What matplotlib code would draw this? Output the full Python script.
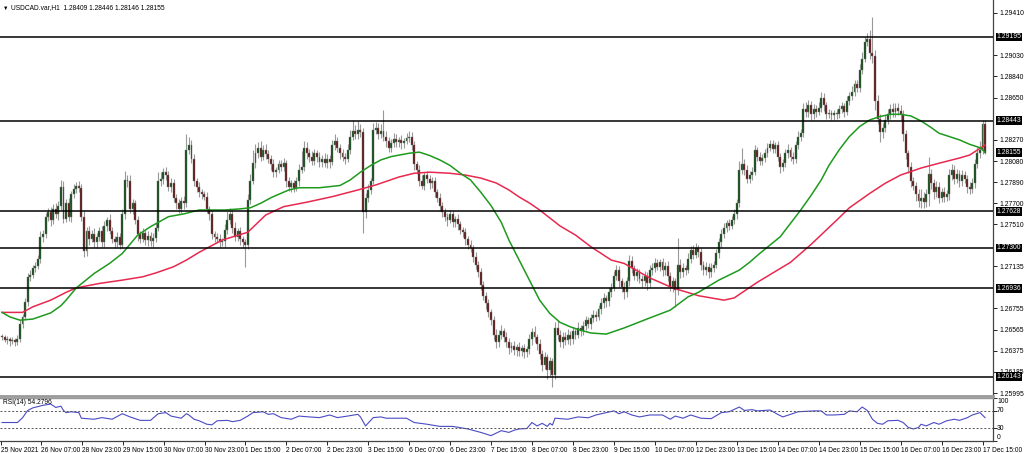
import numpy as np
import matplotlib.pyplot as plt
from matplotlib.transforms import blended_transform_factory

plt.rcParams['font.family'] = ['Liberation Sans', 'DejaVu Sans']

# hourly closes, in pips (price = pips / 10000)
close_pips = [
    12650, 12647, 12648, 12646, 12647, 12645, 12648, 12662, 12668, 12681,
    12704, 12706, 12712, 12714, 12720, 12740, 12742, 12758, 12762, 12755,
    12765, 12760, 12768, 12785, 12756, 12770, 12758, 12778, 12783, 12786,
    12784, 12758, 12727, 12745, 12738, 12742, 12735, 12740, 12745, 12735,
    12750, 12755, 12745, 12738, 12735, 12740, 12733, 12760, 12791, 12790,
    12765, 12770, 12755, 12742, 12738, 12743, 12737, 12741, 12736, 12739,
    12748, 12790, 12792, 12798, 12795, 12785, 12788, 12775, 12770, 12765,
    12772, 12770, 12818, 12822, 12810, 12790, 12785, 12780, 12778, 12776,
    12765, 12760, 12742, 12740, 12738, 12735, 12736, 12746, 12755, 12760,
    12748, 12740, 12745, 12738, 12735, 12733, 12773, 12790, 12806, 12815,
    12820, 12812, 12818, 12814, 12810, 12805, 12798, 12800, 12805, 12803,
    12806, 12790, 12785, 12788, 12784, 12790, 12800, 12803, 12820, 12815,
    12812, 12808, 12815, 12812, 12807, 12810, 12806, 12810, 12807, 12822,
    12826, 12820, 12815, 12812, 12810, 12818, 12830, 12835, 12832, 12836,
    12834, 12762, 12775, 12782, 12790, 12836, 12838, 12832, 12835, 12830,
    12826, 12820, 12824, 12828, 12825, 12827, 12824, 12826, 12829, 12830,
    12822, 12805, 12800, 12790, 12786, 12795, 12792, 12788, 12790, 12780,
    12775, 12768, 12762, 12758, 12755, 12760, 12753, 12756, 12751, 12746,
    12744, 12738, 12733, 12730, 12722, 12715, 12708, 12697, 12687, 12680,
    12672, 12665, 12652, 12645, 12652, 12655, 12650, 12645, 12640, 12642,
    12638, 12641, 12637, 12640, 12636, 12639, 12648, 12654, 12650, 12644,
    12635, 12625, 12632, 12620, 12628, 12616, 12658, 12652, 12645, 12650,
    12647, 12652, 12648, 12655, 12652, 12658, 12655, 12660, 12665, 12662,
    12667, 12670, 12668, 12675, 12680, 12685, 12682, 12690, 12694, 12705,
    12710, 12700, 12695, 12690, 12700, 12718, 12712, 12705, 12708, 12702,
    12700, 12705, 12698, 12710, 12712, 12716, 12713, 12717, 12710, 12714,
    12705, 12695, 12700, 12692, 12715, 12708, 12712, 12710, 12720, 12728,
    12724, 12730, 12726, 12715, 12710, 12713, 12708, 12712, 12715, 12725,
    12735, 12742, 12748, 12752, 12750, 12755, 12760, 12770, 12800, 12805,
    12800, 12792, 12795, 12798, 12818, 12812, 12808, 12811, 12815, 12820,
    12823, 12819, 12822, 12812, 12803, 12806, 12815, 12818, 12812, 12810,
    12822, 12830, 12833, 12855, 12852, 12858, 12850, 12855, 12852, 12856,
    12865, 12858, 12850, 12851, 12849, 12851, 12850, 12855, 12857, 12852,
    12862, 12866, 12870, 12877, 12874, 12890, 12900, 12915, 12918, 12905,
    12902, 12862, 12846, 12834, 12838, 12845, 12850, 12855, 12852, 12856,
    12853, 12850, 12832, 12815, 12803, 12790, 12786, 12778, 12772, 12775,
    12771, 12778, 12796, 12788, 12780, 12785, 12775, 12780, 12776, 12778,
    12795, 12800, 12792, 12796, 12790, 12795, 12792, 12785, 12783, 12788,
    12805, 12815, 12818, 12840.9, 12815.5,
]
first_open = 12651

# wick lengths in pips above / below the body
up_wick = [
    2, 2, 3, 2, 3, 2, 4, 3, 3, 4, 3, 4, 3, 3, 4, 5, 4, 3, 4, 5,
    4, 5, 4, 6, 5, 4, 5, 3, 4, 3, 4, 3, 5, 4, 5, 4, 6, 3, 4, 5,
    4, 3, 5, 4, 3, 4, 3, 5, 8, 4, 5, 4, 3, 4, 3, 5, 3, 4, 3, 4,
    4, 8, 6, 4, 5, 4, 5, 4, 3, 4, 4, 5, 14, 8, 5, 4, 3, 4, 3, 3,
    4, 3, 4, 3, 3, 4, 3, 5, 8, 6, 4, 5, 3, 4, 3, 3, 5, 6, 12, 8,
    5, 6, 4, 5, 4, 3, 5, 3, 4, 4, 5, 3, 4, 3, 3, 4, 5, 14, 6, 5,
    4, 5, 4, 3, 4, 3, 5, 4, 3, 5, 6, 4, 3, 4, 3, 5, 6, 10, 5, 8,
    5, 4, 4, 5, 3, 6, 5, 4, 6, 19, 5, 4, 4, 5, 4, 3, 4, 3, 4, 5,
    4, 4, 3, 4, 5, 3, 4, 3, 4, 4, 3, 4, 3, 4, 3, 4, 3, 3, 4, 3,
    3, 4, 3, 4, 3, 4, 3, 4, 3, 3, 4, 3, 4, 5, 4, 6, 3, 4, 4, 3,
    4, 3, 4, 3, 4, 3, 5, 4, 6, 3, 4, 3, 4, 3, 4, 3, 5, 6, 4, 4,
    4, 5, 3, 4, 3, 5, 3, 4, 4, 3, 4, 4, 3, 4, 5, 4, 3, 5, 4, 4,
    5, 4, 3, 4, 4, 6, 5, 3, 4, 3, 4, 4, 3, 5, 4, 5, 4, 3, 4, 3,
    4, 3, 4, 3, 24, 5, 4, 3, 5, 4, 5, 4, 3, 4, 3, 4, 3, 4, 3, 4,
    4, 5, 4, 3, 4, 4, 5, 4, 8, 15, 5, 4, 4, 5, 4, 3, 4, 3, 4, 4,
    4, 4, 3, 4, 3, 4, 4, 5, 3, 4, 4, 5, 4, 5, 6, 5, 4, 4, 3, 5,
    5, 4, 3, 4, 3, 3, 4, 3, 4, 3, 4, 4, 5, 4, 4, 5, 6, 4, 5, 8,
    32, 6, 5, 4, 4, 4, 5, 4, 5, 4, 4, 5, 4, 4, 3, 4, 4, 3, 5, 8,
    5, 5, 16, 5, 4, 5, 4, 4, 5, 4, 6, 5, 4, 5, 4, 5, 4, 3, 4, 5,
    5, 6, 8, 4, 3.7,
]
down_wick = [
    3, 2, 3, 4, 2, 3, 2, 3, 4, 3, 3, 4, 3, 4, 3, 4, 5, 3, 4, 5,
    4, 3, 5, 4, 4, 3, 4, 5, 3, 4, 4, 4, 5, 4, 5, 3, 4, 5, 4, 4,
    4, 5, 3, 4, 5, 4, 4, 3, 4, 5, 4, 5, 4, 6, 4, 3, 4, 5, 4, 5,
    4, 3, 4, 5, 4, 4, 5, 4, 5, 4, 4, 5, 3, 4, 4, 4, 5, 4, 4, 3,
    4, 5, 4, 5, 4, 4, 3, 5, 4, 4, 5, 4, 4, 5, 5, 20, 4, 4, 3, 4,
    4, 4, 3, 4, 4, 5, 4, 4, 3, 4, 4, 5, 4, 5, 4, 3, 4, 3, 4, 5,
    5, 4, 4, 5, 4, 4, 3, 4, 5, 3, 4, 4, 5, 4, 5, 3, 4, 3, 4, 4,
    4, 19, 5, 4, 4, 3, 4, 4, 3, 4, 5, 4, 4, 3, 4, 4, 5, 4, 3, 4,
    4, 5, 4, 4, 3, 4, 4, 5, 4, 4, 4, 5, 4, 4, 5, 3, 4, 4, 5, 4,
    4, 5, 4, 4, 5, 4, 4, 5, 4, 5, 4, 4, 5, 5, 4, 4, 5, 4, 5, 4,
    4, 5, 4, 4, 5, 4, 4, 5, 5, 6, 5, 6, 4, 8, 5, 11, 4, 5, 4, 5,
    4, 3, 5, 4, 4, 3, 4, 3, 4, 4, 5, 4, 4, 3, 4, 4, 5, 4, 4, 3,
    4, 5, 5, 6, 4, 4, 5, 4, 5, 4, 5, 4, 6, 4, 4, 4, 3, 4, 5, 4,
    5, 4, 5, 15, 4, 5, 4, 4, 3, 4, 4, 3, 4, 5, 4, 4, 5, 4, 4, 3,
    4, 4, 3, 4, 4, 3, 4, 4, 3, 4, 5, 4, 4, 4, 3, 4, 4, 4, 4, 3,
    3, 4, 4, 4, 6, 4, 3, 4, 4, 5, 4, 3, 4, 3, 4, 4, 5, 4, 4, 3,
    4, 5, 4, 3, 4, 4, 4, 3, 4, 4, 3, 4, 3, 4, 4, 4, 4, 3, 4, 5,
    6, 8, 5, 9, 5, 4, 4, 4, 4, 4, 4, 5, 6, 5, 6, 5, 4, 6, 5, 6,
    5, 4, 10, 5, 6, 4, 5, 4, 5, 4, 5, 4, 5, 4, 5, 4, 4, 6, 5, 4,
    4, 3, 4, 4, 0.9,
]

# moving averages (bar index, pips)
green_ma_bar = [0, 3, 7, 12, 19, 23, 25, 29, 36, 42, 47, 53, 58, 65, 71, 77, 87, 93, 97, 101,
                105, 109, 112, 116, 124, 132, 136, 140, 144, 148, 152, 159, 163, 167, 171, 175,
                179, 183, 187, 191, 195, 198, 202, 206, 210, 214, 218, 222, 226, 230, 236, 243,
                253, 261, 268, 272, 280, 288, 292, 296, 304, 312, 316, 320, 323, 327, 331, 335,
                339, 343, 347, 351, 355, 359, 363, 366, 370, 374, 378, 382, 384]
green_ma = [12672, 12668, 12665, 12666, 12671.5, 12678, 12683, 12694, 12707, 12716, 12725,
            12741.5, 12749, 12758, 12760.5, 12764, 12764, 12765, 12766, 12770, 12775, 12779,
            12782, 12784, 12784, 12786, 12791, 12798, 12804, 12809, 12812, 12815, 12816, 12813,
            12809, 12804, 12797, 12791, 12780, 12768, 12753, 12737, 12719, 12701, 12683, 12671,
            12663, 12659, 12656, 12653.5, 12652.5, 12658, 12667, 12674, 12686, 12690, 12701,
            12710, 12717, 12725, 12740, 12764, 12777, 12791, 12804, 12818, 12830, 12839, 12845,
            12848, 12850, 12850, 12848.5, 12844, 12838, 12833, 12830, 12827, 12823, 12820, 12816]
red_ma_bar = [0, 8, 12, 19, 25, 29, 38, 47, 55, 60, 67, 72, 77, 86, 96, 103, 110, 119, 129, 139,
              146, 155, 161, 167, 175, 181, 187, 193, 198, 202, 206, 210, 214, 218, 224, 230,
              238, 243, 253, 262, 272, 282, 286, 295, 308, 316, 327, 331, 339, 345, 351, 359,
              366, 374, 378, 384]
red_ma = [12672, 12672, 12677, 12683, 12690, 12694, 12698, 12701, 12704, 12707.4, 12713, 12719,
          12726, 12737, 12744, 12759.5, 12767, 12771, 12776, 12782, 12786.5, 12793.6, 12797,
          12798, 12797, 12795.4, 12792.7, 12788.3, 12782, 12775.7, 12770.3, 12764, 12756.8,
          12749.6, 12741.5, 12731, 12719, 12716, 12703, 12694, 12687, 12683, 12685, 12699,
          12717, 12733, 12757, 12766, 12779, 12788, 12795.4, 12801.7, 12806, 12810.7, 12813.4,
          12822.4]

# RSI(14)
rsi_bar = [0, 6, 8, 10, 12, 16, 19, 21, 23, 24, 25, 27, 30, 31, 36, 39, 43, 47, 50, 54,
           58, 61, 64, 66, 70, 72, 73, 75, 77, 80, 82, 84, 88, 90, 93, 96, 98, 102, 104, 106,
           109, 113, 116, 120, 124, 128, 131, 135, 139, 140, 142, 145, 148, 150, 153, 158, 161,
           166, 171, 176, 182, 187, 191, 195, 198, 200, 202, 205, 207, 209, 211, 213, 214, 215,
           216, 221, 225, 229, 232, 236, 239, 241, 243, 246, 249, 253, 258, 261, 263, 266, 269,
           273, 277, 281, 284, 288, 290, 293, 295, 300, 303, 305, 308, 311, 317, 320, 322, 325,
           329, 331, 334, 336, 338, 340, 342, 344, 346, 350, 352, 354, 356, 358, 359, 361, 364,
           366, 369, 372, 374, 377, 379, 382, 384]
rsi_val = [43, 43, 54, 71, 77, 83, 86, 78, 81, 71, 66, 68, 66, 53, 50.6, 54.4, 50.6, 63.5, 56, 48,
           48, 63.5, 66, 58, 53, 63.5, 60.5, 50.6, 47, 39, 37.6, 47, 48, 45, 48, 58, 66, 68, 62,
           63.5, 54.4, 50.6, 58, 56, 54.4, 60.5, 54.4, 58, 62, 56, 35, 54.4, 56, 53, 53, 53, 43,
           39, 34, 34, 28, 20, 12.5, 24, 20, 25, 28, 29, 43, 35, 41, 34, 41, 37, 53, 50.6, 56, 54,
           60.5, 66, 70, 63.5, 68, 60.5, 56, 60.5, 60.5, 50.6, 58, 53, 60.5, 53, 52, 66, 68, 79,
           71, 73, 70, 72, 62, 56, 62, 68, 70, 70, 60.5, 60.5, 62, 70, 68, 79, 71, 50.6, 41, 39,
           47, 48, 43, 31.5, 28, 31.5, 39, 35, 43, 39, 47, 50.6, 48, 54, 60.5, 66, 54.3]

levels = [1.29195, 1.28443, 1.27628, 1.27300, 1.26936, 1.26143]
last_price = 1.28155
price_ticks = [1.29410, 1.29030, 1.28840, 1.28650, 1.28270, 1.28080, 1.27890, 1.27700,
               1.27510, 1.27135, 1.26755, 1.26565, 1.26375, 1.26185, 1.25995]
time_labels = ['25 Nov 2021', '26 Nov 07:00', '28 Nov 23:00', '29 Nov 15:00', '30 Nov 07:00',
               '30 Nov 23:00', '1 Dec 15:00', '2 Dec 07:00', '2 Dec 23:00', '3 Dec 15:00',
               '6 Dec 07:00', '6 Dec 23:00', '7 Dec 15:00', '8 Dec 07:00', '8 Dec 23:00',
               '9 Dec 15:00', '10 Dec 07:00', '12 Dec 23:00', '13 Dec 15:00', '14 Dec 07:00',
               '14 Dec 23:00', '15 Dec 15:00', '16 Dec 07:00', '16 Dec 23:00', '17 Dec 15:00']
bars_per_label = 16

close = np.array(close_pips) / 1e4
opn = np.r_[first_open, close_pips[:-1]] / 1e4
high = np.maximum(opn, close) + np.array(up_wick) / 1e4
low = np.minimum(opn, close) - np.array(down_wick) / 1e4
idx = np.arange(len(close))

fs = 4.9

fig = plt.figure(figsize=(10.24, 4.53), dpi=100)
ax = fig.add_axes([0, 57 / 453, 993 / 1024, 396 / 453])
rax = fig.add_axes([0, 12 / 453, 993 / 1024, 43 / 453])

xlim = (-0.8, 387.1)
ax.set_xlim(*xlim)
ax.set_ylim(1.259688, 1.295268)

# candles
ax.vlines(idx, low, high, color='#999999', lw=0.8, zorder=2)
bull = close >= opn
body = np.maximum(np.abs(close - opn), 0.00005)
ax.bar(idx[bull], body[bull], bottom=opn[bull], width=0.75, color='#0d4a12',
       edgecolor='#7a7a7a', linewidth=0.3, zorder=3)
ax.bar(idx[~bull], body[~bull], bottom=close[~bull], width=0.75, color='#5e1414',
       edgecolor='#7a7a7a', linewidth=0.3, zorder=3)

# moving averages
ax.plot(red_ma_bar, np.array(red_ma) / 1e4, color='#e8294f', lw=1.1, zorder=4)
ax.plot(green_ma_bar, np.array(green_ma) / 1e4, color='#1e9a1e', lw=1.1, zorder=4)

for lv in levels:
    ax.axhline(lv, color='black', lw=1.1, zorder=5)

ax.yaxis.tick_right()
ax.set_yticks(price_ticks)
ax.set_yticklabels(['%.5f' % p for p in price_ticks])
ax.tick_params(axis='y', length=3, width=0.6, pad=1.5, labelsize=fs, colors='black')
ax.set_xticks([])
for s in ['left', 'top']:
    ax.spines[s].set_visible(False)
ax.spines['right'].set_color('#444444')
ax.spines['right'].set_linewidth(0.9)
ax.spines['bottom'].set_color('#9a9a9a')
ax.spines['bottom'].set_linewidth(2)

trans = blended_transform_factory(ax.transAxes, ax.transData)
for lv in levels + [last_price]:
    ax.text(1.0035, lv, '%.5f' % lv, transform=trans, fontsize=fs, color='white',
            va='center', ha='left', clip_on=False, zorder=10,
            bbox=dict(boxstyle='square,pad=0.12', fc='black', ec='none'))

fig.text(0.003, 0.988, '\u25bc', fontsize=4, va='top', ha='left')
fig.text(0.011, 0.991, 'USDCAD.var,H1  1.28409 1.28446 1.28146 1.28155',
         fontsize=4.8, va='top', ha='left')

# RSI window
rax.set_xlim(*xlim)
rax.set_ylim(0, 100)
rax.plot(rsi_bar, rsi_val, color='#4a4ac4', lw=0.8)
rax.axhline(70, color='#555555', lw=0.7, ls=(0, (2, 2)))
rax.axhline(30, color='#555555', lw=0.7, ls=(0, (2, 2)))
rax.yaxis.tick_right()
rax.set_yticks([100, 70, 30, 0])
rax.set_yticklabels([])
rax.tick_params(axis='y', length=3, width=0.6)
rtrans = blended_transform_factory(rax.transAxes, rax.transData)
for v, va in [(100, 'top'), (70, 'center'), (30, 'center'), (0, 'bottom')]:
    rax.text(1.004, v, str(v), transform=rtrans, fontsize=fs, va=va, ha='left', clip_on=False)
rax.text(0.003, 0.97, 'RSI(14) 54.2796', transform=rax.transAxes, fontsize=4.8,
         va='top', ha='left')

tick_pos = [k * bars_per_label - 0.9 for k in range(len(time_labels))]
tick_pos[0] = -0.6
rax.set_xticks(tick_pos)
rax.set_xticklabels(time_labels, ha='left')
rax.tick_params(axis='x', length=3, width=0.6, pad=1.5, labelsize=4.8)
rax.spines['left'].set_visible(False)
rax.spines['top'].set_color('#9a9a9a')
rax.spines['top'].set_linewidth(1.0)
for s in ['right', 'bottom']:
    rax.spines[s].set_color('#444444')
    rax.spines[s].set_linewidth(0.9)

fig.savefig('out.png', dpi=100)
